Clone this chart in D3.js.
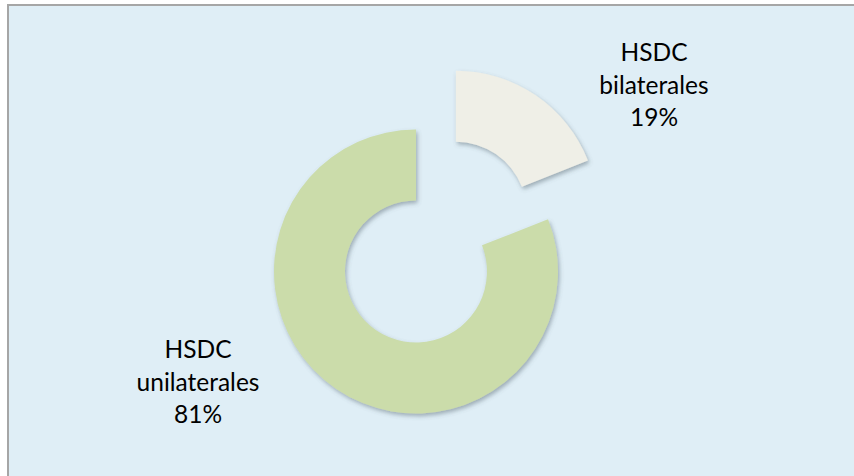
<!DOCTYPE html>
<html>
<head>
<meta charset="utf-8">
<script src="https://cdn.jsdelivr.net/npm/d3@7"></script>
<style>
  html, body { margin: 0; padding: 0; background: #ffffff; }
  svg { display: block; }
</style>
</head>
<body>
<svg id="chart" width="854" height="476"></svg>
<script>
// Donut data: share of HSDC cases by laterality
const categories = ["HSDC bilaterales", "HSDC unilaterales"];
const labelLines = [["HSDC", "bilaterales"], ["HSDC", "unilaterales"]];
const values = [19, 81];
const percentLabels = ["19%", "81%"];
const sliceColors = ["#efefe7", "#cbdcaa"];
const explodedIndex = 0;

const W = 854, H = 476;
const svg = d3.select("#chart");

// Shadow under the slices
const defs = svg.append("defs");
const f = defs.append("filter").attr("id", "shadow")
  .attr("x", "-20%").attr("y", "-20%").attr("width", "140%").attr("height", "140%");
f.append("feDropShadow")
  .attr("dx", 1.5).attr("dy", 2.5).attr("stdDeviation", 2)
  .attr("flood-color", "#4a5a66").attr("flood-opacity", 0.45);

// Chart area with grey frame
svg.append("rect")
  .attr("x", 8).attr("y", 5).attr("width", W + 10).attr("height", H + 10)
  .attr("fill", "#dfeef6")
  .attr("stroke", "#a6a6a6").attr("stroke-width", 2);

const cx = 416, cy = 271.5;
const outerR = 142, innerR = 71;
const explode = 71;

const pie = d3.pie().sort(null).value(d => d)(values);
const arc = d3.arc().innerRadius(innerR).outerRadius(outerR);

const g = svg.append("g").attr("transform", `translate(${cx},${cy})`);

g.selectAll("path.slice")
  .data(pie)
  .join("path")
  .attr("class", "slice")
  .attr("d", arc)
  .attr("fill", (d, i) => sliceColors[i])
  .attr("filter", "url(#shadow)")
  .attr("transform", (d, i) => {
    if (i !== explodedIndex) return null;
    const mid = (d.startAngle + d.endAngle) / 2;
    return `translate(${Math.sin(mid) * explode},${-Math.cos(mid) * explode})`;
  });

// Data labels placed outside the ring
const labelPos = [[654, 61], [198, 358]];
const lineGap = 32.5;
const labels = svg.append("g")
  .attr("font-family", "Lato, 'Open Sans', sans-serif")
  .attr("font-size", 24.5)
  .attr("fill", "#000")
  .attr("text-anchor", "middle");

pie.forEach((d, i) => {
  const t = labels.append("text")
    .attr("x", labelPos[i][0]).attr("y", labelPos[i][1]);
  const lines = labelLines[i].concat([percentLabels[i]]);
  lines.forEach((ln, k) => {
    t.append("tspan")
      .attr("x", labelPos[i][0])
      .attr("y", labelPos[i][1] + k * lineGap)
      .text(ln);
  });
});
</script>
</body>
</html>
